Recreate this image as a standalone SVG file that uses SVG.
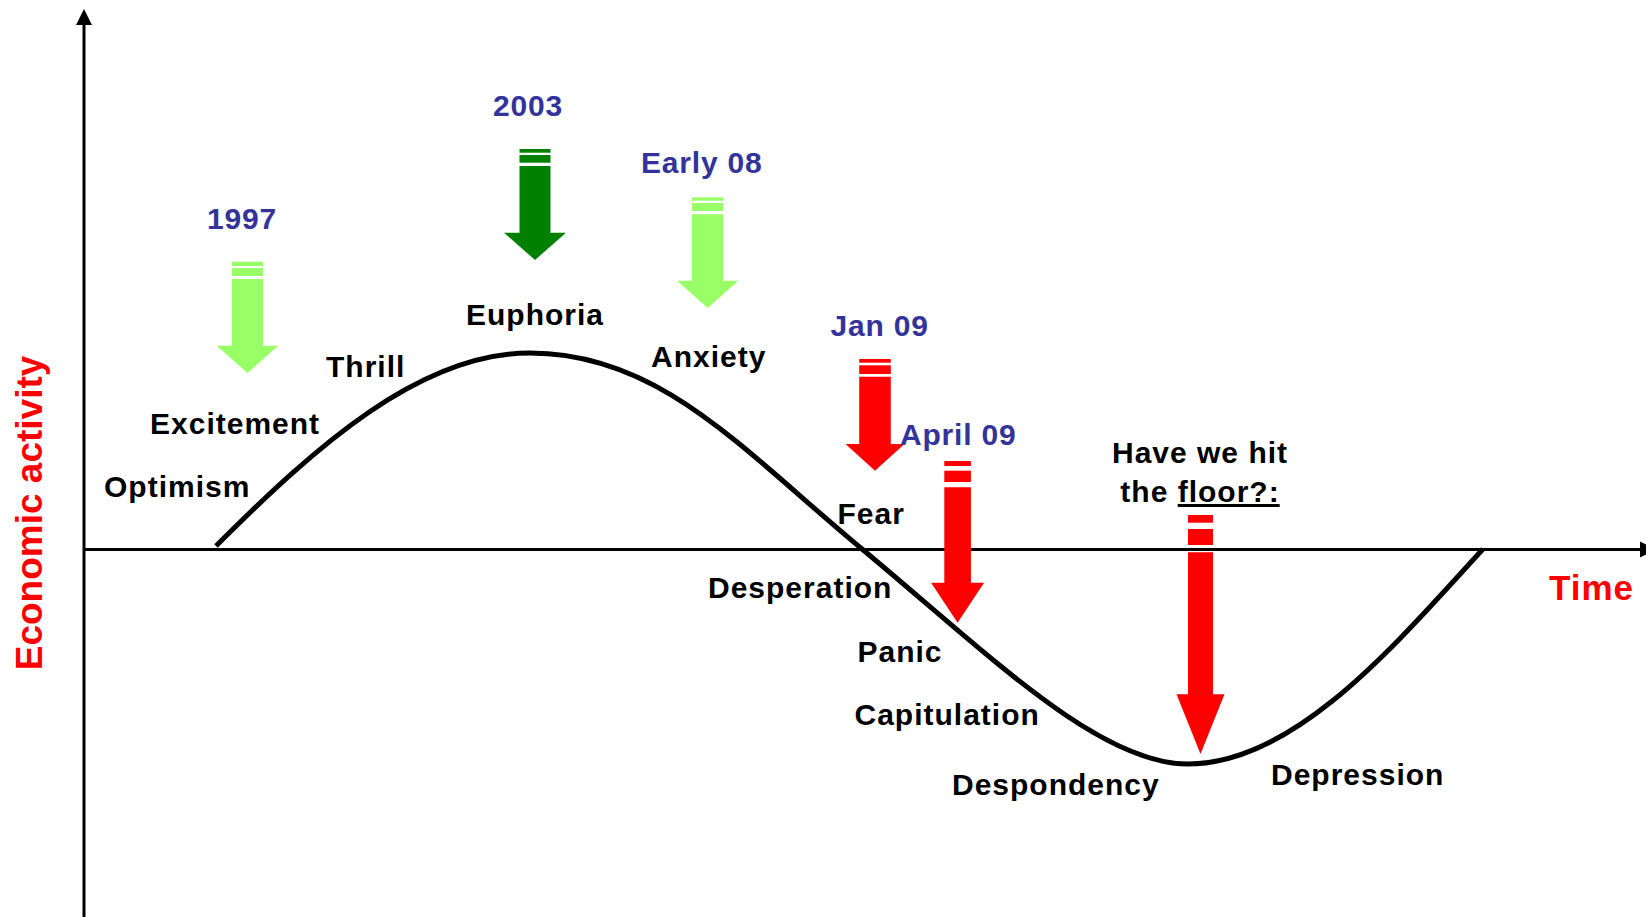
<svg xmlns="http://www.w3.org/2000/svg" width="1646" height="917" viewBox="0 0 1646 917">
<style>
.lbl{font-family:"Liberation Sans",Arial,sans-serif;font-weight:bold;font-size:30px;letter-spacing:1px;fill:#000}
.yr{font-family:"Liberation Sans",Arial,sans-serif;font-weight:bold;font-size:30px;letter-spacing:0.8px;fill:#333399}
.ax{font-family:"Liberation Sans",Arial,sans-serif;font-weight:bold;fill:#FF0000}
.lg{fill:#99FF66}
.dg{fill:#008000}
.rd{fill:#FF0000}
.axis{stroke:#000;stroke-width:3;fill:none}
.curve{stroke:#000;stroke-width:5;fill:none}
</style>
<rect width="1646" height="917" fill="#fff"/>
<g id="connectors">
  <line class="axis" x1="84" y1="917" x2="84" y2="24"/>
  <polygon points="84,9 92,25 76,25" fill="#000"/>
  <line class="axis" x1="84" y1="549.5" x2="1641" y2="549.5"/>
  <polygon points="1656,549.5 1640,541.5 1640,557.5" fill="#000"/>
  <path class="curve" d="M216,546 C316,446 420,353 530,353 C660,353 742,449.4 862,549 C986,652 1098,764 1188,764 C1295,764 1395,645 1483,549"/>
</g>
<g id="axis-y-label"><text class="ax" font-size="37" text-anchor="middle" transform="translate(42,513) rotate(-90)">Economic activity</text></g>
<g id="axis-x-label"><text class="ax" font-size="35" letter-spacing="1" x="1549" y="600">Time</text></g>
<g id="arrow-1997">
  <text class="yr" x="207" y="229">1997</text>
  <rect class="lg" x="232" y="261.7" width="31" height="4.3"/>
  <rect class="lg" x="232" y="268" width="31" height="8"/>
  <polygon class="lg" points="232,279 263,279 263,345.7 278.2,345.7 247.5,373 216.8,345.7 232,345.7"/>
</g>
<g id="arrow-2003">
  <text class="yr" x="493" y="116">2003</text>
  <rect class="dg" x="519.5" y="149" width="31" height="3.7"/>
  <rect class="dg" x="519.5" y="155" width="31" height="7.7"/>
  <polygon class="dg" points="519.5,166 550.5,166 550.5,232.7 566,232.7 535,260 504,232.7 519.5,232.7"/>
</g>
<g id="arrow-early08">
  <text class="yr" x="641" y="173">Early 08</text>
  <rect class="lg" x="692" y="197.3" width="31.4" height="3.4"/>
  <rect class="lg" x="692" y="203" width="31.4" height="8"/>
  <polygon class="lg" points="692,214.3 723.4,214.3 723.4,280.7 738.2,280.7 707.7,308 677.2,280.7 692,280.7"/>
</g>
<g id="arrow-jan09">
  <text class="yr" x="830.5" y="336">Jan 09</text>
  <rect class="rd" x="859.2" y="359" width="31.6" height="3.7"/>
  <rect class="rd" x="859.2" y="365.3" width="31.6" height="8.7"/>
  <polygon class="rd" points="859.2,376.7 890.8,376.7 890.8,444 904.5,444 875,470.7 845.5,444 859.2,444"/>
</g>
<g id="arrow-april09">
  <text class="yr" x="900" y="445">April 09</text>
  <rect class="rd" x="944.3" y="461" width="26.6" height="5"/>
  <rect class="rd" x="944.3" y="470.7" width="26.6" height="11.3"/>
  <polygon class="rd" points="944.3,487.3 970.9,487.3 970.9,582.7 984.1,582.7 957.6,622.7 931.1,582.7 944.3,582.7"/>
</g>
<g id="arrow-floor">
  <text class="lbl" x="1200" y="463" text-anchor="middle">Have we hit</text>
  <text class="lbl" x="1200" y="502" text-anchor="middle">the <tspan style="text-decoration:underline">floor?:</tspan></text>
  <rect class="rd" x="1188" y="515" width="25" height="7.7"/>
  <rect class="rd" x="1188" y="529" width="25" height="16"/>
  <polygon class="rd" points="1188,552.3 1213,552.3 1213,694.3 1224.5,694.3 1200.5,754 1176.5,694.3 1188,694.3"/>
</g>
<g id="stage-optimism"><text class="lbl" x="104" y="497">Optimism</text></g>
<g id="stage-excitement"><text class="lbl" x="150" y="434">Excitement</text></g>
<g id="stage-thrill"><text class="lbl" x="326" y="377">Thrill</text></g>
<g id="stage-euphoria"><text class="lbl" x="466" y="325">Euphoria</text></g>
<g id="stage-anxiety"><text class="lbl" x="651" y="367">Anxiety</text></g>
<g id="stage-fear"><text class="lbl" x="837.5" y="524">Fear</text></g>
<g id="stage-desperation"><text class="lbl" x="708" y="598.3">Desperation</text></g>
<g id="stage-panic"><text class="lbl" x="857.5" y="661.7">Panic</text></g>
<g id="stage-capitulation"><text class="lbl" x="854.5" y="725">Capitulation</text></g>
<g id="stage-despondency"><text class="lbl" x="952" y="795">Despondency</text></g>
<g id="stage-depression"><text class="lbl" x="1271" y="785">Depression</text></g>
</svg>
